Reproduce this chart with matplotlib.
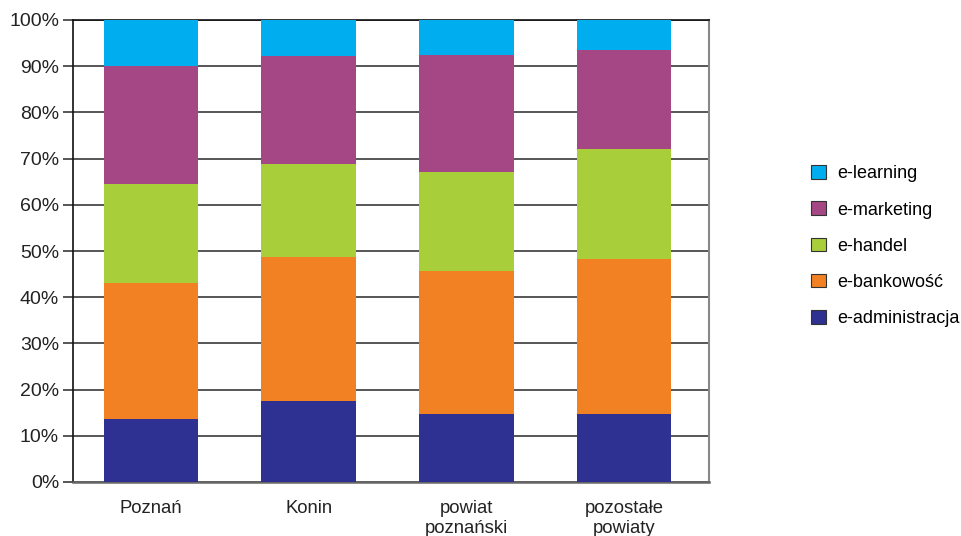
import matplotlib
matplotlib.use("Agg")
import matplotlib.pyplot as plt
from matplotlib.patches import Patch
from matplotlib.ticker import FuncFormatter

plt.rcParams['font.family'] = ['Liberation Sans', 'DejaVu Sans']

categories = ["Poznań", "Konin", "powiat\npoznański", "pozostałe\npowiaty"]
series_names = ["e-administracja", "e-bankowość", "e-handel", "e-marketing", "e-learning"]
e_administracja = [13.7, 17.6, 14.7, 14.7]
e_bankowosc = [29.4, 31.1, 31.0, 33.6]
e_handel = [21.3, 20.2, 21.5, 23.8]
e_marketing = [25.6, 23.2, 25.3, 21.3]
e_learning = [10.0, 7.9, 7.5, 6.6]
colors = ["#2E3192", "#F28123", "#A8CE3A", "#A54785", "#00AEEF"]

series = [e_administracja, e_bankowosc, e_handel, e_marketing, e_learning]

fig = plt.figure(figsize=(9.62, 5.36), dpi=100)
ax = fig.add_axes([73 / 962, 1 - 482 / 536, (709 - 73) / 962, (482 - 20) / 536])

x = list(range(len(categories)))
bottom = [0.0] * len(categories)
for vals, col, name in zip(series, colors, series_names):
    ax.bar(x, vals, bottom=bottom, width=0.6, color=col, label=name, zorder=3)
    bottom = [b + v for b, v in zip(bottom, vals)]

ax.set_ylim(0, 100)
ax.set_xlim(-0.495, 3.54)
ax.set_yticks(range(0, 101, 10))
ax.yaxis.set_major_formatter(FuncFormatter(lambda v, p: f"{int(v)}%"))
ax.yaxis.grid(True, color="#3a3a3a", linewidth=1.2, zorder=1)
ax.set_axisbelow(True)
ax.tick_params(axis="y", length=7, width=1.2, color="#3a3a3a", labelsize=14, pad=3, labelcolor="#222222")
ax.set_xticks(x)
ax.set_xticklabels(categories, fontsize=13.3, color="#222222", linespacing=1.25)
ax.tick_params(axis="x", length=0, pad=13)

for side in ["left", "top"]:
    ax.spines[side].set_color("#111111")
    ax.spines[side].set_linewidth(1.2)
ax.spines["right"].set_color("#888888")
ax.spines["right"].set_linewidth(1.5)
ax.spines["bottom"].set_color("#666666")
ax.spines["bottom"].set_linewidth(1.8)

handles = [Patch(facecolor=c, edgecolor="#333333", linewidth=0.8) for c in colors][::-1]
labels = series_names[::-1]
fig.legend(handles, labels, loc="upper left", bbox_to_anchor=(804 / 962, 1 - 158 / 536),
           frameon=False, fontsize=13, handlelength=0.8, handleheight=0.8,
           handletextpad=0.65, labelspacing=1.05, borderaxespad=0)

fig.savefig("out.png", dpi=100)
